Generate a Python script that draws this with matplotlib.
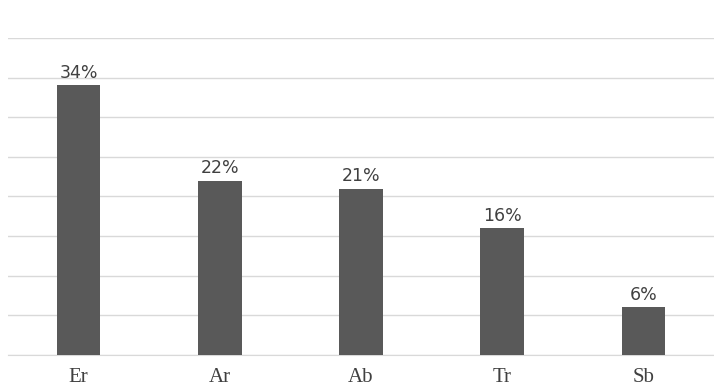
import matplotlib
matplotlib.use("Agg")
import matplotlib.pyplot as plt

categories = ['Er', 'Ar', 'Ab', 'Tr', 'Sb']
shares = [34, 22, 21, 16, 6]
gridticks = [0, 5, 10, 15, 20, 25, 30, 35, 40]

fig = plt.figure(figsize=(7.14, 3.91), dpi=100)
ax = fig.add_axes([0.0112, 0.092, 0.9888, 0.811])

x = range(len(categories))
bars = ax.bar(x, shares, width=0.31, color='#595959', zorder=3)

for b, v in zip(bars, shares):
    ax.text(b.get_x() + b.get_width() / 2, v + 0.45, f'{v}%',
            ha='center', va='bottom', fontsize=12.5, color='#404040',
            family='DejaVu Sans')

ax.set_xlim(-0.5, len(categories) - 0.5)
ax.set_ylim(0, 40)
ax.set_yticks(gridticks)
ax.set_yticklabels([])
ax.tick_params(axis='y', length=0)
ax.grid(axis='y', color='#d9d9d9', linewidth=1, zorder=0)

ax.set_xticks(list(x))
ax.set_xticklabels(categories, family='Liberation Serif', fontsize=15, color='#404040')
ax.tick_params(axis='x', length=0, pad=9)

for s in ['top', 'right', 'left']:
    ax.spines[s].set_visible(False)
ax.spines['bottom'].set_color('#d9d9d9')

fig.savefig('out.png', dpi=100)
